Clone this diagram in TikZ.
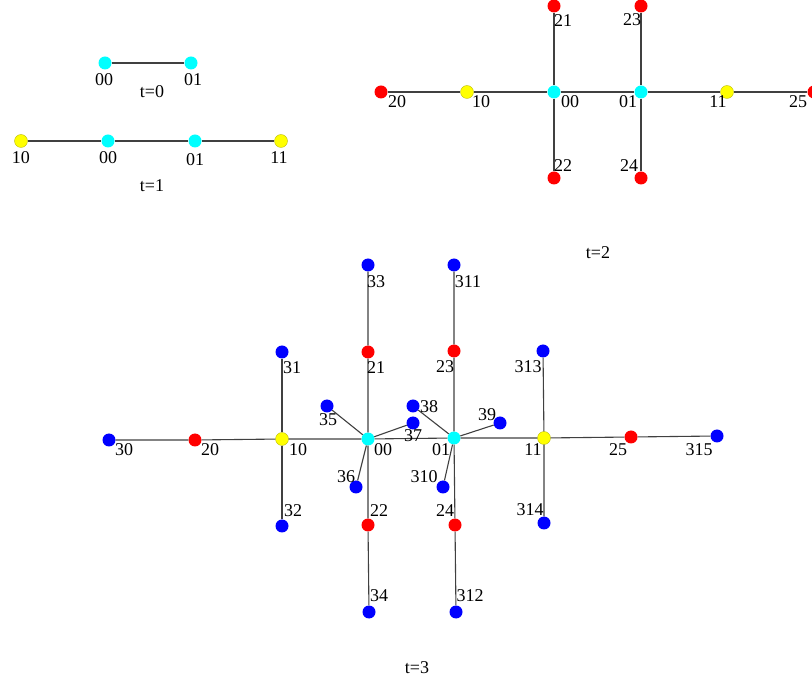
\documentclass[tikz,border=0pt]{standalone}
\usepackage{fontspec}
\setmainfont{Liberation Serif}
\definecolor{cyn}{RGB}{0,255,255}
\definecolor{yel}{RGB}{255,255,0}
\definecolor{rdd}{RGB}{255,0,0}
\definecolor{blu}{RGB}{0,0,255}
\begin{document}
\begin{tikzpicture}[x=1pt,y=-1pt,
 dot/.style={circle,inner sep=0pt,minimum size=13pt,draw=none},
 cy/.style={dot,fill=cyn},
 ye/.style={dot,fill=yel,draw=yel!70!black,line width=0.3pt},
 rd/.style={dot,fill=rdd},
 bl/.style={dot,fill=blu},
 lab/.style={font=\fontsize{18}{18}\selectfont,inner sep=0pt},
 edge/.style={draw=black!75,line width=1.1pt}]
\useasboundingbox (0,0) rectangle (812,684);

% ---------- t=0 ----------
\node[cy] (a00) at (105,63) {};
\node[cy] (a01) at (191,63) {};
\draw[edge] (a00) -- (a01);
\node[lab] (la00) at (104,80) {00};
\node[lab] (la01) at (193,80) {01};
\node[lab] (t0) at (152,92) {t=0};

% ---------- t=1 ----------
\node[ye] (b10) at (21,141) {};
\node[cy] (b00) at (108,141) {};
\node[cy] (b01) at (195,141) {};
\node[ye] (b11) at (281,141) {};
\draw[edge] (b10) -- (b00) -- (b01) -- (b11);
\node[lab] (lb10) at (21,158) {10};
\node[lab] (lb00) at (108,158) {00};
\node[lab] (lb01) at (195,160) {01};
\node[lab] (lb11) at (279,158) {11};
\node[lab] (t1) at (152,186) {t=1};

% ---------- t=2 ----------
\node[rd] (c20) at (381,92) {};
\node[ye] (c10) at (467,92) {};
\node[cy] (c00) at (554,92) {};
\node[cy] (c01) at (641,92) {};
\node[ye] (c11) at (727,92) {};
\node[rd] (c25) at (814,92) {};
\node[rd] (c21) at (554,6) {};
\node[rd] (c23) at (641,6) {};
\node[rd] (c22) at (554,178) {};
\node[rd] (c24) at (641,178) {};
\draw[edge] (c20) -- (c10) -- (c00) -- (c01) -- (c11) -- (c25);
\draw[edge] (c21) -- (c00) -- (c22);
\draw[edge] (c23) -- (c01) -- (c24);
\node[lab] (lc21) at (563,21) {21};
\node[lab] (lc23) at (632,20) {23};
\node[lab] (lc20) at (397,102) {20};
\node[lab] (lc10) at (481,102) {10};
\node[lab] (lc00) at (570,102) {00};
\node[lab] (lc01) at (628,102) {01};
\node[lab] (lc11) at (718,102) {11};
\node[lab] (lc25) at (798,102) {25};
\node[lab] (lc22) at (563,166) {22};
\node[lab] (lc24) at (629,166) {24};
\node[lab] (t2) at (598,253) {t=2};

% ---------- t=3 ----------
\node[bl] (d30) at (109,440) {};
\node[rd] (d20) at (195,440) {};
\node[ye] (d10) at (282,439) {};
\node[cy] (d00) at (368,439) {};
\node[cy] (d01) at (454,438) {};
\node[ye] (d11) at (544,438) {};
\node[rd] (d25) at (631,437) {};
\node[bl] (d315) at (717,436) {};
\node[bl] (d31) at (282,352) {};
\node[bl] (d32) at (282,526) {};
\node[bl] (d33) at (368,265) {};
\node[rd] (d21) at (368,352) {};
\node[rd] (d22) at (368,525) {};
\node[bl] (d34) at (369,612) {};
\node[bl] (d35) at (327,406) {};
\node[bl] (d36) at (356,487) {};
\node[bl] (d37) at (413,423) {};
\node[bl] (d38) at (413,406) {};
\node[bl] (d39) at (500,423) {};
\node[bl] (d310) at (443,487) {};
\node[bl] (d311) at (454,265) {};
\node[rd] (d23) at (454,351) {};
\node[rd] (d24) at (455,525) {};
\node[bl] (d312) at (456,612) {};
\node[bl] (d313) at (543,351) {};
\node[bl] (d314) at (544,523) {};

\draw[edge] (d30) -- (d20) -- (d10) -- (d00) -- (d01) -- (d11) -- (d25) -- (d315);
\draw[edge] (d31) -- (d10) -- (d32);
\draw[edge] (d33) -- (d21) -- (d00) -- (d22) -- (d34);
\draw[edge] (d00) -- (d35);
\draw[edge] (d00) -- (d36);
\draw[edge] (d00) -- (d37);
\draw[edge] (d01) -- (d38);
\draw[edge] (d01) -- (d39);
\draw[edge] (d01) -- (d310);
\draw[edge] (d311) -- (d23) -- (d01) -- (d24) -- (d312);
\draw[edge] (d313) -- (d11) -- (d314);

\node[lab] (ld30) at (124,450) {30};
\node[lab] (ld20) at (210,450) {20};
\node[lab] (ld10) at (298,450) {10};
\node[lab] (ld00) at (383,450) {00};
\node[lab] (ld01) at (441,450) {01};
\node[lab] (ld11) at (533,450) {11};
\node[lab] (ld25) at (618,450) {25};
\node[lab] (ld315) at (699,450) {315};
\node[lab] (ld31) at (292,368) {31};
\node[lab] (ld32) at (293,511) {32};
\node[lab] (ld33) at (376,282) {33};
\node[lab] (ld21) at (376,368) {21};
\node[lab] (ld22) at (379,511) {22};
\node[lab] (ld34) at (379,596) {34};
\node[lab] (ld35) at (328,420) {35};
\node[lab] (ld36) at (346,477) {36};
\node[lab] (ld37) at (413,436) {37};
\node[lab] (ld38) at (429,407) {38};
\node[lab] (ld39) at (487,415) {39};
\node[lab] (ld310) at (424,477) {310};
\node[lab] (ld311) at (468,282) {311};
\node[lab] (ld23) at (445,367) {23};
\node[lab] (ld24) at (445,511) {24};
\node[lab] (ld312) at (470,596) {312};
\node[lab] (ld313) at (528,367) {313};
\node[lab] (ld314) at (530,510) {314};
\node[lab] (t3) at (417,668) {t=3};
\end{tikzpicture}
\end{document}
